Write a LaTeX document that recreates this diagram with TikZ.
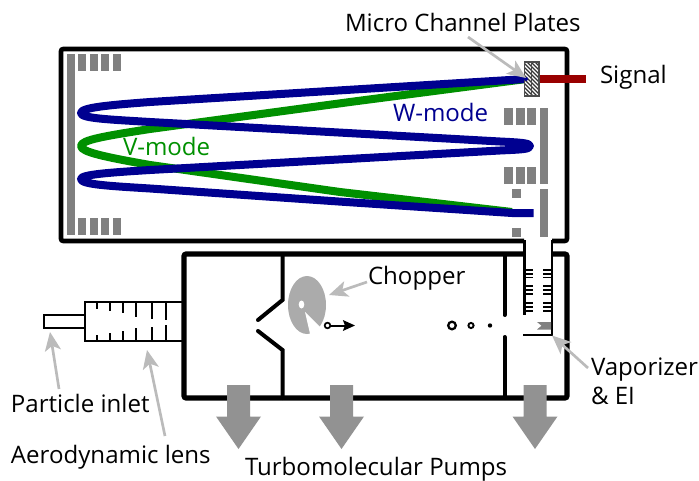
\documentclass[tikz,border=0pt]{standalone}
\usepackage{fontspec}
\setmainfont{Open Sans}
\usetikzlibrary{arrows.meta}
\definecolor{bluebeam}{HTML}{000090}
\definecolor{greenbeam}{HTML}{009000}
\definecolor{barg}{HTML}{808080}
\definecolor{pumpg}{HTML}{929292}
\definecolor{pointg}{HTML}{BBBBBB}
\definecolor{sigred}{HTML}{990000}
\tikzset{
  x=0.75pt,y=-0.75pt,
  wallthick/.style={line width=3.4pt,black,line join=round,rounded corners=1.5pt},
  inner/.style={line width=3pt,black,line cap=round,line join=miter},
  thin wall/.style={line width=1.9pt,black},
  lensline/.style={line width=1.6pt,black},
  tick/.style={line width=1.3pt,black},
  bar/.style={fill=barg,draw=none},
  beam/.style={line width=6pt,line join=round},
  pointer/.style={draw=pointg,line width=2pt,-{Stealth[length=14pt,width=12pt,inset=3.5pt]}},
  label/.style={anchor=base west,inner sep=0pt,outer sep=0pt,font=\fontsize{18.05}{21}\selectfont,text=black},
  pump/.style={fill=pumpg,draw=none},
}
\begin{document}
\begin{tikzpicture}
\useasboundingbox (0,0) rectangle (699,481);
% TOF box
\draw[wallthick] (524,241) -- (61,241) -- (61,49) -- (567,49) -- (567,241) -- (552,241);
% lower box
\draw[line width=3.8pt,rounded corners=1.5pt] (524,254) -- (184,254) -- (184,398) -- (567,398) -- (567,254) -- (552,254);
% tube
\draw[thin wall] (524.5,240) -- (524.5,315);
\draw[thin wall] (552,240) -- (552,335) -- (523,335);
% inner walls
\draw[inner] (282.5,254) -- (282.5,300) -- (258,320);
\draw[inner] (258,331) -- (282.5,350) -- (282.5,398);
\draw[inner] (504.5,254) -- (504.5,315);
\draw[inner] (504.5,337) -- (504.5,398);
% ion optics
\fill[bar] (67,54) rectangle (75,235);
\foreach \xa/\xb in {78/86,89.5/97.5,101/109,112.5/121}{
  \fill[bar] (\xa,54) rectangle (\xb,71);
  \fill[bar] (\xa,218) rectangle (\xb,235);
}
\foreach \xa/\xb in {504/513,516/524.5,527/536}{
  \fill[bar] (\xa,108) rectangle (\xb,125);
  \fill[bar] (\xa,167) rectangle (\xb,184);
}
\fill[bar] (540,108) rectangle (548,184);
\fill[bar] (540,189) rectangle (548,237);
\fill[bar] (512,189) rectangle (521,198);
\fill[bar] (512,228) rectangle (521,237);
% beams
\draw[beam,greenbeam] (526,79) -- (350,102) -- (150,129) .. controls (105,136) and (81,140) .. (81,146) .. controls (81,152) and (105,157) .. (150,165) -- (340,192) -- (512,212);
\draw[beam,bluebeam] (533.5,213) -- (512,213) -- (340,201.6) -- (150,188.5) .. controls (110,186) and (81,184.5) .. (81,179) .. controls (81,174.5) and (110,172.5) .. (150,170) -- (500,150.5) .. controls (520,149.5) and (530,149.5) .. (530,146) .. controls (530,143) and (520,142.5) .. (500,141.5) -- (150,122) .. controls (110,119.5) and (81,118.5) .. (81,113) .. controls (81,107.5) and (110,105) .. (150,102) -- (526,79);
% MCP
\fill[white] (524.5,62) rectangle (539,96);
\begin{scope}
\clip (524.5,62) rectangle (531.5,96);
\foreach \k in {-12,-8,...,120}{\draw[black!80,line width=0.9pt] (520,\k+55) -- (540,\k+75);}
\end{scope}
\begin{scope}
\clip (531.5,62) rectangle (539,96);
\foreach \k in {-12,-8,...,120}{\draw[black!80,line width=0.9pt] (520,\k+55) -- (540,\k+75);}
\end{scope}
\draw[black!70,line width=0.9pt] (524.5,62) rectangle (539,96);
\draw[black!70,line width=0.7pt] (531.7,62) -- (531.7,96);
\fill[bluebeam] (526,79) circle (2);
\fill[sigred] (539.5,75) rectangle (586,83.5);
% tube ticks
\foreach \y in {270,273.7,277.5,286,290,294,303,307,311}{
  \draw[tick] (524,\y) -- (533,\y);
  \draw[tick] (543,\y) -- (552,\y);
}
% vaporizer
\fill[barg] (537,322) -- (551,322) -- (551,329.5) -- (537,329.5) -- (541.5,325.7) -- cycle;
% particles
\draw[line width=1.7pt] (452,325.5) circle (3.8);
\draw[line width=1.4pt] (471,325.5) circle (2.6);
\fill (490,325.5) circle (2.2);
% chopper
\fill[black!33] (307,305) ellipse (19 and 29);
\fill[white] (301.5,304.5) ellipse (2.8 and 4);
\fill[white] (305,312) -- (311,338) -- (323,330) -- cycle;
\draw[line width=1.3pt,fill=white] (327.5,325.5) circle (2.8);
\draw[line width=1.5pt,-{Stealth[length=9pt,width=8pt,inset=1.5pt]}] (330,325.5) -- (355,325.5);
% inlet & lens
\draw[lensline,fill=white] (85,315) -- (44,315) -- (44,328) -- (85,328);
\draw[lensline] (183,302) -- (85,302) -- (85,341) -- (183,341);
\foreach \x/\a/\b in {97/309/335,110/311/333,123/313/331,136/317/327.5,151.5/319/327,166/319.5/324.5}{
  \draw[tick,line width=1.5pt] (\x,302) -- (\x,\a);
  \draw[tick,line width=1.5pt] (\x,341) -- (\x,\b);
}
% pumps
\foreach \c/\n in {238.5/a,341.5/b,535/c}{
  \fill[pump] (\c-11.5,385) -- (\c+11.5,385) -- (\c+11.5,416.5) -- (\c+22.5,416.5) -- (\c,449) -- (\c-22.5,416.5) -- (\c-11.5,416.5) -- cycle;
}
% labels
\node[label] (mcp) at (345,32) {Micro Channel Plates};
\node[label] (sig) at (600,84) {Signal};
\node[label,text=bluebeam] (wmode) at (393,122) {W-mode};
\node[label,text=greenbeam] (vmode) at (123,156) {V-mode};
\node[label] (chop) at (368,284) {Chopper};
\node[label] (vap) at (591,375) {Vaporizer};
\node[label] (ei) at (591,404) {\& EI};
\node[label] (inlet) at (11,412) {Particle inlet};
\node[label] (lens) at (11,463) {Aerodynamic lens};
\node[label] (turbo) at (245,475.5) {Turbomolecular Pumps};
% pointers
\coordinate (mcpS) at (468,37); \coordinate (mcpT) at (526,78);
\coordinate (chopS) at (367,282); \coordinate (chopT) at (329,295);
\coordinate (vapS) at (588,368); \coordinate (vapT) at (552,335.5);
\coordinate (inletS) at (59,389); \coordinate (inletT) at (50,332);
\coordinate (lensS) at (165,436); \coordinate (lensT) at (147,350);
\draw[pointer] (mcpS) -- (mcpT);
\draw[pointer] (chopS) -- (chopT);
\draw[pointer] (vapS) -- (vapT);
\draw[pointer] (inletS) -- (inletT);
\draw[pointer] (lensS) -- (lensT);
\end{tikzpicture}
\end{document}
